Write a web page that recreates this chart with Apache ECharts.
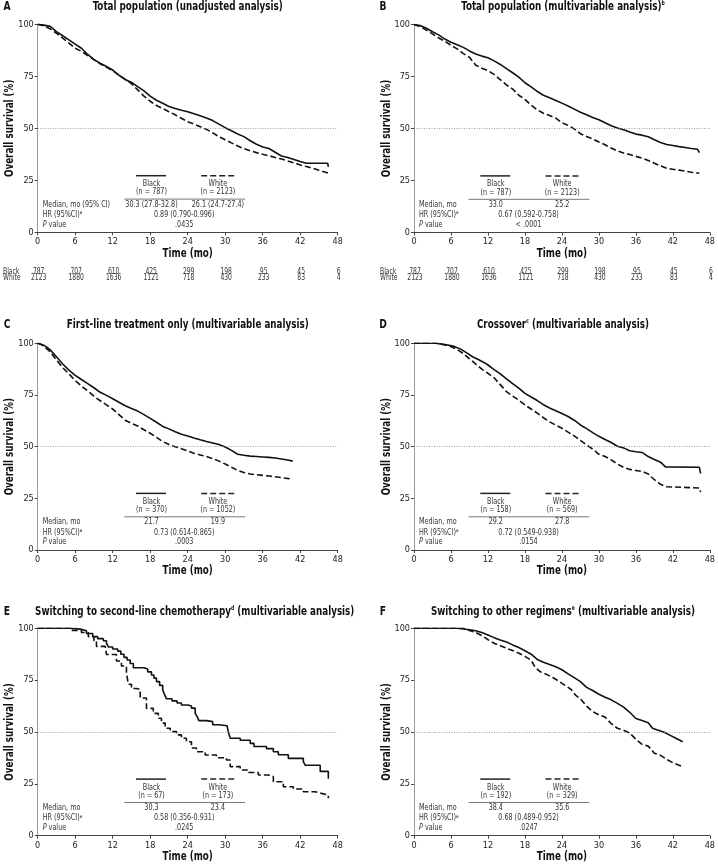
<!DOCTYPE html>
<html><head><meta charset="utf-8">
<script src="https://cdn.jsdelivr.net/npm/echarts@6/dist/echarts.min.js"></script>
<style>html,body{margin:0;padding:0;background:#fff}#c{width:718px;height:864px}</style>
</head><body><div id="c"></div>
<script>
const F = "'Liberation Sans Narrow','DejaVu Sans Condensed','Liberation Sans',Arial,sans-serif";

// ---- data ----
const tickMonths = [0, 6, 12, 18, 24, 30, 36, 42, 48];
const riskBlack = [787, 707, 610, 425, 299, 198, 95, 45, 6];
const riskWhite = [2123, 1880, 1636, 1121, 718, 430, 233, 83, 4];

const A_black = [[0,100],[1,99.6],[2,99],[3,96.5],[4,94.5],[5,92.5],[6,90.5],[7,88.5],[8,85.5],[9,83],[10,81.3],[11,79.7],[12,78],[13,75.5],[14,73.5],[15,72],[16,70],[17,68],[18,65.5],[19,63.5],[20,62],[21,60.5],[22,59.5],[23,58.7],[24,58],[25,57],[26,56],[27,55],[28,53.7],[29,52],[30,50.3],[31,48.8],[32,47.3],[33,46],[34,44],[35,42.3],[36,41],[37,40.3],[38,38.5],[39,36.7],[40,36],[41,35],[42,34],[43,33.2],[44,33.2],[45,33.2],[46.4,33.2],[46.5,31.5]];
const A_white = [[0,100],[1,99.2],[2,97.8],[3,95.7],[4,93.3],[5,91],[6,88.5],[7,87],[8,85],[9,83],[10,81],[11,79.3],[12,77.7],[13,75.5],[14,73.5],[15,71.5],[16,68.5],[17,65.5],[18,63],[19,61],[20,59.5],[21,58],[22,56.5],[23,54.8],[24,53.2],[25,52],[26,50.8],[27,49.5],[28,47.8],[29,46],[30,44.5],[31,43],[32,41.5],[33,40.2],[34,39.2],[35,38.3],[36,37.5],[37,36.8],[38,36],[39,35.2],[40,34.3],[41,33.4],[42,32.4],[43,31.6],[44,30.8],[45,29.8],[46.5,28.5]];

const B_black = [[0,100],[1,99.5],[2,98.2],[3,96.5],[4,95],[5,93],[6,91.5],[7,90.3],[8,89],[9,87.3],[10,85.8],[11,84.8],[12,84],[13,82.5],[14,80.8],[15,78.8],[16,76.8],[17,74.7],[18,72],[19,70],[20,67.8],[21,66],[22,64.8],[23,63.5],[24,62.2],[25,60.8],[26,59.3],[27,57.8],[28,56.6],[29,55.3],[30,54.2],[31,52.8],[32,51.3],[33,50.2],[34,49.4],[35,48.3],[36,47.3],[37,46.8],[38,46],[39,44.6],[40,43.3],[41,42.3],[42,41.8],[43,41.3],[44,40.9],[45,40.4],[46,40],[46.3,38.4]];
const B_white = [[0,100],[1,99],[2,97.3],[3,95.5],[4,93.5],[5,92],[6,90],[7,88.3],[8,86],[9,84.2],[10,80.5],[11,79],[12,77.8],[13,76],[14,73.5],[15,71],[16,69],[17,66],[18,64],[19,61.2],[20,59],[21,57.3],[22,56.2],[23,55],[24,52.8],[25,51.5],[26,49.8],[27,47.5],[28,46.2],[29,45],[30,43.5],[31,42.2],[32,40.6],[33,39.2],[34,38.2],[35,37.5],[36,36.6],[37,35.7],[38,34.6],[39,33.3],[40,32],[41,30.9],[42,30.4],[43,30],[44,29.5],[45,29],[46.3,28.5]];

const C_black = [[0,100],[0.5,99.5],[1,99],[1.5,98],[2,96.8],[3,93.5],[4,90],[5,87],[6,84.5],[7,82.5],[8,80.5],[9,78.5],[10,76.3],[11,74.8],[12,73.2],[13,71.5],[14,69.8],[15,68.5],[16,67.2],[17,65.5],[18,63.7],[19,61.8],[20,59.8],[21,58.6],[22,57.2],[23,56],[24,55.2],[25,54.2],[26,53.3],[27,52.5],[28,51.8],[29,51],[30,49.8],[31,48.2],[32,46.3],[33,45.8],[34,45.4],[35,45.2],[36,45],[37,44.8],[38,44.5],[39,44],[40,43.5],[40.8,43]];
const C_white = [[0,100],[0.5,99.5],[1,98.5],[2,95.9],[3,91.9],[4,88.2],[5,85.2],[6,82],[7,79.3],[8,77],[9,74.4],[10,72.2],[11,70.2],[12,68.2],[13,65.5],[14,62.8],[15,61.3],[16,60],[17,58.2],[18,56.5],[19,54.5],[20,52.5],[21,51],[22,50],[23,49],[24,47.9],[25,46.8],[26,46],[27,45.2],[28,44.2],[29,43],[30,41.6],[31,40],[32,38.5],[33,37.5],[34,36.8],[35,36.4],[36,36.1],[37,35.8],[38,35.4],[39,35],[40,34.6],[40.8,34.2]];

const D_black = [[0,100],[3.5,100],[4.5,99.6],[5.5,99.2],[6.5,98.5],[7.5,97.3],[8.5,95.5],[9.5,93.5],[10.5,92],[11.5,90.5],[12,89.5],[13,87.3],[14,85.2],[15,82.8],[16,80.5],[17,78.3],[18,75.8],[19,74],[20,72.3],[21,70.3],[22,68.7],[23,67.4],[24,66],[25,64.6],[26,62.8],[27,60.5],[28,58.7],[29,56.8],[30,55],[31,53.5],[32,52],[33,50.2],[34,49.4],[35,48],[36,47.5],[37,47.2],[38,45.2],[39,43.8],[40,42.5],[40.8,40.2],[41,40],[46.3,40],[46.5,37]];
const D_white = [[0,100],[4,100],[5,99.2],[6,98.4],[7,97],[8,95],[9,92.5],[10,90],[11,87.5],[12,85.5],[13,83.3],[14,80],[15,76.6],[16,74.5],[17,72.5],[18,70.2],[19,68.2],[20,66.2],[21,64],[22,62],[23,60.4],[24,58.9],[25,57],[26,55.2],[27,53],[28,50.8],[29,48.8],[30,46.3],[31,45.2],[32,43.6],[33,41.6],[34,40],[35,39],[36,38.5],[37,38],[38,36.8],[39,34],[40,31.8],[41,30.6],[46.3,30],[46.5,28]];

const E_black = [[0,100],[5.3,99.6],[6.8,98.8],[7.8,97.5],[8.8,96],[9.6,95],[10.5,94],[11,92.8],[11.3,91],[12,90],[12.8,89],[13.3,87.5],[13.8,86],[14.3,84.7],[14.8,83],[15.3,81],[17,80.4],[17.6,79],[18.2,77.5],[18.6,76],[19,74.3],[19.5,72.5],[20,70.3],[20.3,68],[20.6,66],[21.5,65],[22.3,64],[23,63],[24,62.5],[24.6,61.5],[25.2,59],[25.5,57.5],[25.8,55.5],[27,55],[28,53.5],[29,53],[30.3,52.5],[30.5,50],[30.8,47],[32.4,46],[34,44.5],[34.6,43],[36.6,42],[37.7,40.5],[38.5,39],[40.1,37.3],[42.5,35.7],[42.8,34],[45.2,31],[46.5,27.5]];
const E_white = [[0,100],[5.4,99],[7,98],[8.1,96],[9,94],[9.4,91.3],[10.8,90.8],[11,87.4],[12.6,84.2],[13.4,81.8],[14.2,78.6],[14.5,73],[15,71],[15.8,70.5],[16.4,66.4],[17.4,61.4],[18.5,59],[19.3,56.6],[19.8,54.3],[20.4,51.8],[21.2,50.2],[22.2,48.6],[23,47],[23.8,45.3],[24.6,42.3],[25.4,40.5],[26.8,38.9],[28.6,37.6],[30.2,36.5],[30.8,33.3],[32.4,31.7],[33.7,30.5],[35.3,29.3],[36.9,28.5],[37.7,26],[39.3,23.6],[40.9,22.5],[42.5,21.2],[44.4,20.4],[45.4,19.6],[46.5,18]];

const F_black = [[0,100],[7,100],[8,99.7],[9,99.3],[10,98.8],[11,98],[12,96.8],[13,95.5],[14,94.4],[15,93.4],[16,92],[17,90.7],[18,89.2],[19,87.5],[20,85],[21,83.6],[22,82.5],[23,81.5],[24,80],[25,78],[26,76.2],[27,74.3],[28,71.5],[29,70],[30,68.2],[31,66.8],[32,65.5],[33,63.8],[34,62],[35,59.5],[36,56.5],[37,55.5],[38,54.5],[38.7,51.8],[39.5,51],[40.5,50],[41.5,48.5],[42.5,47],[43.6,45.3]];
const F_white = [[0,100],[8,100],[9,99],[10,98],[11,96.5],[12,94.5],[13,92.8],[14,91.6],[15,90.4],[16,89.3],[17,88],[18,86.5],[19,84.6],[19.7,81],[20.5,79],[21.5,77.8],[22.5,76.3],[23.5,74.5],[24.5,72.5],[25.5,70.5],[26.2,67.8],[27,66],[28,62.5],[29,59.8],[30,58.3],[31,57.2],[32,54],[33,51.8],[34,50.8],[35,49.5],[36,46.5],[37,44],[38,43.2],[39,39.8],[40,38.7],[41,36.8],[42,35.2],[43,34],[43.6,33.3]];

const titles = [
  ['Total population (unadjusted analysis)', '', ''],
  ['Total population (multivariable analysis)', 'b', ''],
  ['First-line treatment only (multivariable analysis)', '', ''],
  ['Crossover', 'c', ' (multivariable analysis)'],
  ['Switching to second-line chemotherapy', 'd', ' (multivariable analysis)'],
  ['Switching to other regimens', 'e', ' (multivariable analysis)']
];
const letters = ['A', 'B', 'C', 'D', 'E', 'F'];
const xName = 'Time (mo)';
const yName = 'Overall survival (%)';
const nBlack = [787, 787, 370, 158, 67, 192];
const nWhite = [2123, 2123, 1052, 569, 173, 329];
const medianLabel = ['Median, mo (95% CI)', 'Median, mo', 'Median, mo', 'Median, mo', 'Median, mo', 'Median, mo'];
const medianBlack = ['30.3 (27.8-32.8)', '33.0', '21.7', '29.2', '30.3', '38.4'];
const medianWhite = ['26.1 (24.7-27.4)', '25.2', '19.9', '27.8', '23.4', '35.6'];
const hrText = ['0.89 (0.790-0.996)', '0.67 (0.592-0.758)', '0.73 (0.614-0.865)', '0.72 (0.549-0.938)', '0.58 (0.356-0.931)', '0.68 (0.489-0.952)'];
const pText = ['.0435', '< .0001', '.0003', '.0154', '.0245', '.0247'];

const curves = [[A_black, A_white], [B_black, B_white], [C_black, C_white], [D_black, D_white], [E_black, E_white], [F_black, F_white]];
const stepped = [false, false, false, false, true, false];

// ---- layout ----
const grids = [
  {left: 37.7, top: 24.3, width: 300, height: 208},
  {left: 414, top: 24.5, width: 300, height: 208},
  {left: 37.7, top: 343.3, width: 300, height: 206.7},
  {left: 414, top: 343.3, width: 300, height: 206.7},
  {left: 37.7, top: 628.3, width: 300, height: 207.4},
  {left: 414, top: 628.3, width: 300, height: 207.4}
];
const titleY = [7, 7, 324.5, 325, 612, 612];
const titleDX = [0, 1, 0, 1, 7, 1];
const insetShift = [0, -32, 0, -32, 0, -32];
const SX = 0.78;   // horizontal condensing of the bold headings
const SXs = 0.84;  // horizontal condensing of small text

const chart = echarts.init(document.getElementById('c'), null, {renderer: 'canvas'});

const xAxes = [], yAxes = [], series = [];
grids.forEach((g, i) => {
  xAxes.push({
    gridIndex: i, type: 'value', min: 0, max: 48, interval: 6,
    axisLine: {lineStyle: {color: '#444', width: 1}},
    axisTick: {length: 3, lineStyle: {color: '#444'}},
    axisLabel: {fontSize: 9, color: '#222', margin: 5, fontFamily: F},
    splitLine: {show: false}
  });
  yAxes.push({
    gridIndex: i, type: 'value', min: 0, max: 100, interval: 25,
    axisLine: {show: true, lineStyle: {color: '#999', width: 1}},
    axisTick: {show: true, length: 3, lineStyle: {color: '#444'}},
    axisLabel: {fontSize: 9, color: '#222', margin: 4, fontFamily: F},
    splitLine: {show: false}
  });
  const [bl, wh] = curves[i];
  series.push({
    type: 'line', xAxisIndex: i, yAxisIndex: i, data: bl, symbol: 'none', showSymbol: false,
    step: stepped[i] ? 'end' : false, animation: false, silent: true, z: 3,
    lineStyle: {color: '#111', width: 1.6, type: 'solid'},
    markLine: {silent: true, symbol: 'none', animation: false, label: {show: false},
      lineStyle: {color: '#888', type: [1, 1.5], width: 0.8}, data: [{yAxis: 50}]}
  });
  series.push({
    type: 'line', xAxisIndex: i, yAxisIndex: i, data: wh, symbol: 'none', showSymbol: false,
    step: stepped[i] ? 'end' : false, animation: false, silent: true, z: 2,
    lineStyle: {color: '#111', width: 1.6, type: [6, 3]}
  });
});

chart.setOption({
  animation: false,
  backgroundColor: '#fff',
  grid: grids.map(g => Object.assign({containLabel: false}, g)),
  xAxis: xAxes, yAxis: yAxes, series: series
});

// ---- annotations ----
const gfx = [];
const txt = (x, y, text, opt, sx, rot) => gfx.push({type: 'text', x: x, y: y, silent: true, z: 10,
  scaleX: sx || SXs, rotation: rot || 0,
  style: Object.assign({text: text, fontFamily: F, fontSize: 8.5, fill: '#333', align: 'center', verticalAlign: 'middle'}, opt || {})});
const seg = (x1, y1, x2, y2, dash, color, w) => gfx.push({type: 'line', silent: true, z: 10,
  shape: {x1: x1, y1: y1, x2: x2, y2: y2},
  style: {stroke: color || '#111', lineWidth: w || 1.5, lineDash: dash || null}});
const bold = {fontSize: 12.5, fontWeight: 'bold', fill: '#111'};

grids.forEach((g, i) => {
  const x0 = chart.convertToPixel({xAxisIndex: i}, 0);
  const y0 = chart.convertToPixel({yAxisIndex: i}, 0);
  const yTop = chart.convertToPixel({yAxisIndex: i}, 100);
  const cx = chart.convertToPixel({xAxisIndex: i}, 24);
  const s = insetShift[i];
  // title
  const t = titles[i];
  let rt = '{t|' + t[0] + '}';
  if (t[1]) rt += '{s|' + t[1] + '}';
  if (t[2]) rt += '{t|' + t[2] + '}';
  txt(cx + titleDX[i], titleY[i], rt, {
    rich: {t: {fontFamily: F, fontSize: 12.5, fontWeight: 'bold', fill: '#111', lineHeight: 15},
           s: {fontFamily: F, fontSize: 6.5, fontWeight: 'bold', fill: '#111', verticalAlign: 'top', lineHeight: 15}}}, SX);
  // letter
  txt(i % 2 === 0 ? 7 : 383, titleY[i], letters[i], {fontSize: 12, fontWeight: 'bold', fill: '#111'}, 0.85);
  // axis names
  txt(cx, y0 + 21, xName, bold, SX);
  txt(x0 - 27.5, (y0 + yTop) / 2, yName, bold, SX, Math.PI / 2);
  // inset legend
  const X = v => x0 + v + s;
  seg(X(98.3), y0 - 56.6, X(128.3), y0 - 56.6, null, '#222', 1.5);
  seg(X(163.5), y0 - 56.6, X(197.5), y0 - 56.6, [6, 3], '#222', 1.5);
  txt(X(113.8), y0 - 48.4, 'Black');
  txt(X(113.8), y0 - 40.2, '(n = ' + nBlack[i] + ')');
  txt(X(180.2), y0 - 48.4, 'White');
  txt(X(180.2), y0 - 40.2, '(n = ' + nWhite[i] + ')');
  seg(X(86.6), y0 - 33.2, X(207.3), y0 - 33.2, null, '#777', 1);
  txt(x0 + 5, y0 - 28, medianLabel[i], {align: 'left'});
  txt(X(113.8), y0 - 28, medianBlack[i]);
  txt(X(180.2), y0 - 28, medianWhite[i]);
  txt(x0 + 5, y0 - 17.6, '{r|HR (95%CI)}{s|a}', {align: 'left',
    rich: {r: {fontFamily: F, fontSize: 8.5, fill: '#333', lineHeight: 10}, s: {fontFamily: F, fontSize: 5.5, fill: '#333', verticalAlign: 'top', lineHeight: 10}}});
  txt(X(146.5), y0 - 17.6, hrText[i]);
  txt(x0 + 5, y0 - 7.8, '{i|P}{r| value}', {align: 'left',
    rich: {i: {fontFamily: F, fontSize: 8.5, fontStyle: 'italic', fill: '#333'}, r: {fontFamily: F, fontSize: 8.5, fill: '#333'}}});
  txt(X(146.5), y0 - 7.8, pText[i]);
  // risk table for A and B
  if (i < 2) {
    const lx = i === 0 ? 3 : 380;
    txt(lx, y0 + 39.7, 'Black', {align: 'left', fontSize: 8});
    txt(lx, y0 + 45.7, 'White', {align: 'left', fontSize: 8});
    tickMonths.forEach((m, k) => {
      const px = chart.convertToPixel({xAxisIndex: i}, m) + 1;
      txt(px, y0 + 39.7, String(riskBlack[k]), {fontSize: 8});
      txt(px, y0 + 45.7, String(riskWhite[k]), {fontSize: 8});
    });
  }
});

chart.setOption({graphic: {elements: gfx}});
</script></body></html>
